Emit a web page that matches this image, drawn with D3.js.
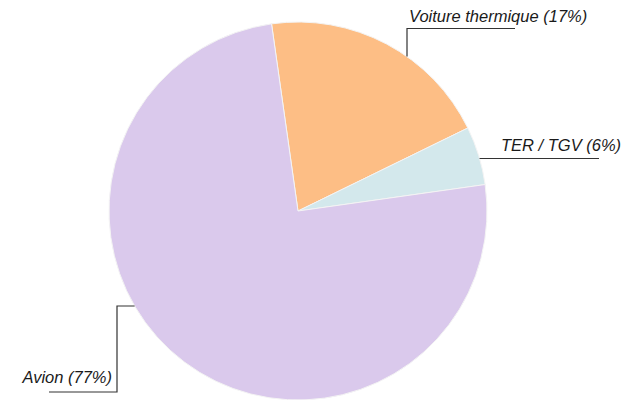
<!DOCTYPE html>
<html>
<head>
<meta charset="utf-8">
<script src="https://cdn.jsdelivr.net/npm/d3@7"></script>
<style>
  body { margin: 0; background: #fff; }
  svg text { font-family: "Liberation Sans", Arial, sans-serif; font-style: italic; }
</style>
</head>
<body>
<svg id="chart" width="623" height="400"></svg>
<script>
// slice shares as drawn, and the percentages printed in the labels
var categories = ['Voiture thermique', 'TER / TGV', 'Avion'];
var shares = [20, 5, 75];
var labelPct = [17, 6, 77];
var colors = ['#fdbe85', '#d3e8ec', '#dac9ec'];

var width = 623, height = 400;
var cx = 298, cy = 211, radius = 189;

var svg = d3.select('#chart');
var g = svg.append('g').attr('transform', 'translate(' + cx + ',' + cy + ')');

var data = categories.map(function (c, i) {
	return {name: c, value: shares[i], pct: labelPct[i], color: colors[i]};
});

var pie = d3.pie()
	.sort(null)
	.value(function (d) { return d.value; })
	.startAngle(-8.05 * Math.PI / 180)
	.endAngle((360 - 8.05) * Math.PI / 180);

var arc = d3.arc().innerRadius(0).outerRadius(radius);

g.selectAll('.slice').data(pie(data)).enter()
	.append('path')
	.attr('class', 'slice')
	.attr('d', arc)
	.attr('fill', function (d) { return d.data.color; })
	.attr('stroke', '#f4f4f4')
	.attr('stroke-width', 1);

// leader lines: where a vertical / horizontal line hits the circle
function yOnCircle(x, sign) { return sign * Math.sqrt(radius * radius - x * x); }
function xOnCircle(y, sign) { return sign * Math.sqrt(radius * radius - y * y); }

var lab = g.append('g').attr('class', 'labels');

function leader(pts) {
	lab.append('path')
		.attr('d', d3.line()(pts))
		.attr('fill', 'none')
		.attr('stroke', '#333')
		.attr('stroke-width', 1.2);
}
function label(txt, x, y, anchor) {
	lab.append('text')
		.attr('x', x).attr('y', y)
		.attr('text-anchor', anchor)
		.attr('font-size', '16.5px')
		.attr('fill', '#1a1a1a')
		.text(txt);
}
function txtOf(d) { return d.name + ' (' + d.pct + '%)'; }

// Voiture thermique
var vx = 407 - cx;
leader([[vx, yOnCircle(vx, -1)], [vx, 28.5 - cy], [515 - cx, 28.5 - cy]]);
label(txtOf(data[0]), 409 - cx, 22 - cy, 'start');

// TER / TGV
var ty = 158.5 - cy;
leader([[xOnCircle(ty, 1), ty], [599 - cx, ty]]);
label(txtOf(data[1]), 501 - cx, 151 - cy, 'start');

// Avion
var ay = 306 - cy;
leader([[xOnCircle(ay, -1), ay], [117 - cx, ay], [117 - cx, 392 - cy], [49 - cx, 392 - cy]]);
label(txtOf(data[2]), 112 - cx, 383 - cy, 'end');
</script>
</body>
</html>
